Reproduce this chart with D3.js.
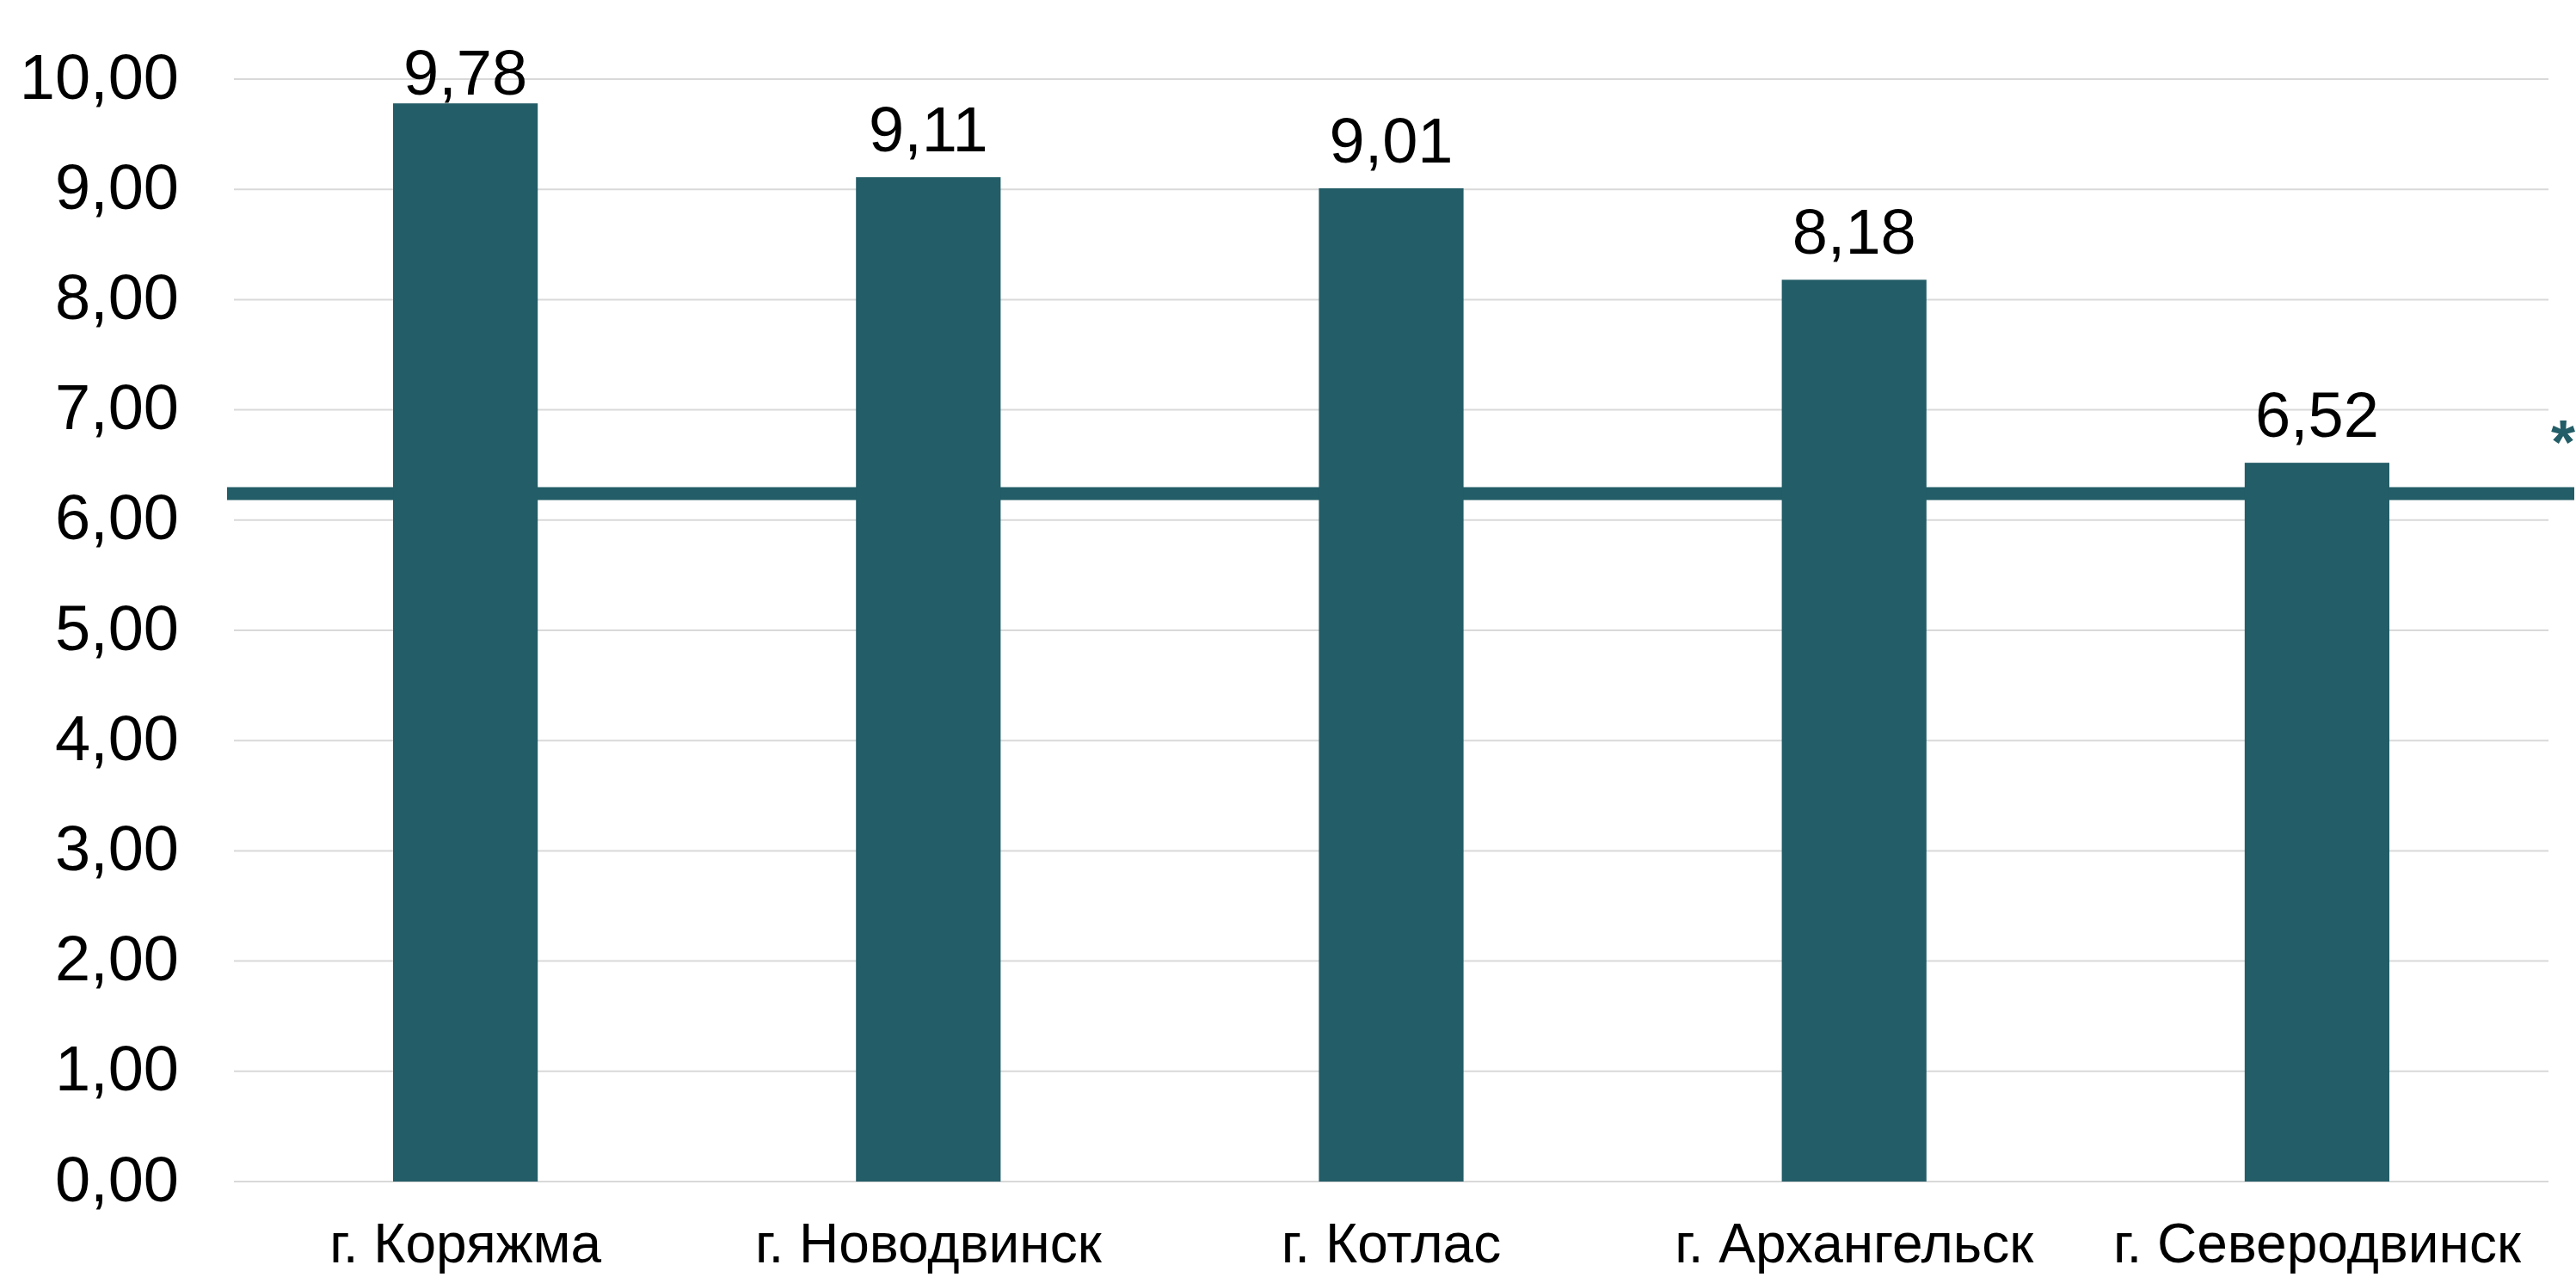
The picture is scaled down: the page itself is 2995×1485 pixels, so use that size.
<!DOCTYPE html>
<html>
<head>
<meta charset="utf-8">
<script src="https://cdn.jsdelivr.net/npm/d3@7"></script>
<style>
  html, body { margin: 0; padding: 0; background: #fff; }
  svg { display: block; }
  text { font-family: "Liberation Sans", Arial, sans-serif; fill: #000; }
</style>
</head>
<body>
<svg id="chart" width="2995" height="1485"></svg>
<script>
// Cities and their values
const categories = ["г. Коряжма", "г. Новодвинск", "г. Котлас", "г. Архангельск", "г. Северодвинск"];
const values = [9.78, 9.11, 9.01, 8.18, 6.52];
// Reference level drawn as a horizontal line
const referenceValue = 6.24;
const referenceMark = "*";
// Y axis ticks
const yTicks = [0, 1, 2, 3, 4, 5, 6, 7, 8, 9, 10];

const plot = { left: 272, right: 2963, top: 92, bottom: 1374 };
const barColor = "#235D67";
const fmt = v => d3.format(".2f")(v).replace(".", ",");

const svg = d3.select("#chart");

const x = d3.scaleBand()
  .domain(categories)
  .range([plot.left, plot.right])
  .paddingInner(0.6875)
  .paddingOuter(0.34375);

const y = d3.scaleLinear()
  .domain([0, 10])
  .range([plot.bottom, plot.top]);

// Horizontal gridlines
svg.append("g")
  .selectAll("line")
  .data(yTicks)
  .join("line")
  .attr("x1", plot.left)
  .attr("x2", plot.right)
  .attr("y1", d => y(d))
  .attr("y2", d => y(d))
  .attr("stroke", "#d9d9d9")
  .attr("stroke-width", 2);

// Y axis labels
const yAxis = d3.axisLeft(y)
  .tickValues(yTicks)
  .tickFormat(fmt)
  .tickSize(0)
  .tickPadding(64);
const gy = svg.append("g")
  .attr("transform", `translate(${plot.left},0)`)
  .call(yAxis);
gy.select(".domain").remove();
gy.selectAll("text")
  .attr("font-size", 74)
  .attr("font-family", "'Liberation Sans', Arial, sans-serif")
  .attr("fill", "#000")
  .attr("dy", null)
  .attr("y", 22);

// Reference line
svg.append("line")
  .attr("x1", 264)
  .attr("x2", 2993)
  .attr("y1", y(referenceValue))
  .attr("y2", y(referenceValue))
  .attr("stroke", barColor)
  .attr("stroke-width", 15);

// Bars
svg.append("g")
  .selectAll("rect")
  .data(values)
  .join("rect")
  .attr("x", (d, i) => x(categories[i]))
  .attr("width", x.bandwidth())
  .attr("y", d => y(d))
  .attr("height", d => y(0) - y(d))
  .attr("fill", barColor);

// Value labels above bars (the tallest one is kept inside the top edge)
svg.append("g")
  .selectAll("text")
  .data(values)
  .join("text")
  .attr("x", (d, i) => x(categories[i]) + x.bandwidth() / 2)
  .attr("y", d => Math.max(y(d) - 30, 110))
  .attr("text-anchor", "middle")
  .attr("font-size", 74)
  .text(fmt);

// Category labels
const xAxis = d3.axisBottom(x).tickSize(0).tickPadding(0);
const gx = svg.append("g")
  .attr("transform", `translate(0,${plot.bottom})`)
  .call(xAxis);
gx.select(".domain").remove();
gx.selectAll("text")
  .attr("font-size", 64)
  .attr("font-family", "'Liberation Sans', Arial, sans-serif")
  .attr("fill", "#000")
  .attr("dy", null)
  .attr("y", 94);

// Marker next to the reference line
svg.append("text")
  .attr("x", 2966)
  .attr("y", 539)
  .attr("font-size", 72)
  .attr("font-weight", "bold")
  .style("fill", barColor)
  .text(referenceMark);
</script>
</body>
</html>
